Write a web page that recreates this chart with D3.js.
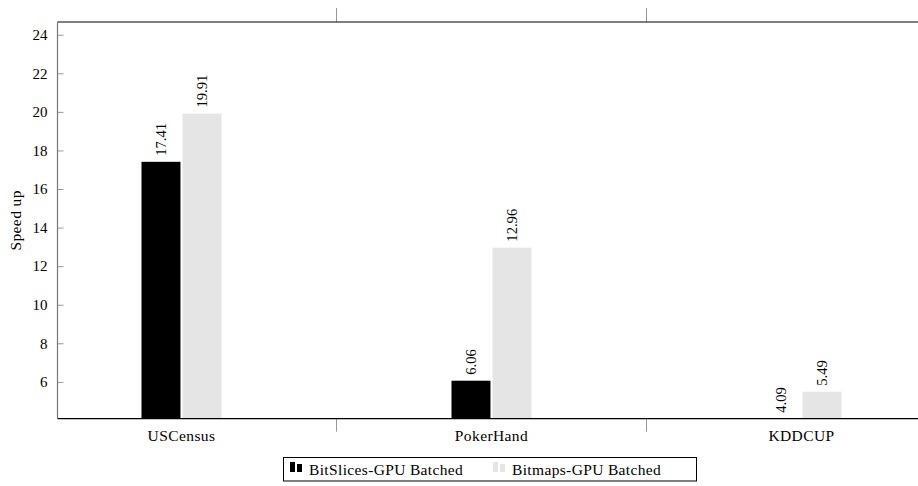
<!DOCTYPE html>
<html><head><meta charset="utf-8">
<script src="https://cdn.jsdelivr.net/npm/d3@7"></script>
<style>body{margin:0;background:#fff}svg{display:block}
svg text{font-family:"Liberation Serif","Times New Roman",serif;}
</style>
</head><body>
<svg id="c" width="918" height="486"></svg>
<script>
const categories = ["USCensus", "PokerHand", "KDDCUP"];
const seriesNames = ["BitSlices-GPU Batched", "Bitmaps-GPU Batched"];
const bitSlices = [17.41, 6.06, 4.09];
const bitmaps = [19.91, 12.96, 5.49];
const yTicks = [6, 8, 10, 12, 14, 16, 18, 20, 22, 24];
const seriesColors = ["#000000", "#e5e5e5"];

const svg = d3.select("#c");
const pLeft = 57.5, pRight = 918, pTop = 22, pBottom = 418.7;

const x0 = d3.scaleBand().domain(categories).range([26.5, 956.5]).paddingInner(0).paddingOuter(0);
const x1 = d3.scaleBand().domain(seriesNames).range([-40, 40]).paddingInner(0.05);
const y = d3.scaleLinear().domain([4.09, 24.66]).range([pBottom, pTop]);

const data = categories.map((c, i) => ({cat: c, vals: [bitSlices[i], bitmaps[i]]}));

// bars
const g = svg.append("g");
data.forEach(d => {
  const cx = x0(d.cat) + x0.bandwidth() / 2;
  d.vals.forEach((v, j) => {
    const s = seriesNames[j];
    g.append("rect")
      .attr("x", cx + x1(s))
      .attr("y", y(v))
      .attr("width", x1.bandwidth())
      .attr("height", Math.max(0, y.range()[0] - y(v)))
      .attr("fill", seriesColors[j]);
    g.append("text")
      .attr("transform", `translate(${cx + x1(s) + x1.bandwidth() / 2 + 4.8},${y(v) - 6}) rotate(-90)`)
      .attr("font-size", 14.6)
      .attr("fill", "#000")
      .text(v.toFixed(2));
  });
});

// y axis
const yAxis = d3.axisLeft(y).tickValues(yTicks).tickSize(-6).tickPadding(10);
const ya = svg.append("g").attr("transform", `translate(${pLeft},0)`).call(yAxis);
ya.attr("font-family", null);
ya.select(".domain").remove();
ya.selectAll(".tick line").attr("stroke", "#999");
ya.selectAll(".tick text").attr("font-size", 15).attr("fill", "#000");

// x axis (category labels)
const xa = svg.append("g").attr("transform", `translate(0,${pBottom})`)
  .call(d3.axisBottom(x0).tickSize(0).tickPadding(11));
xa.attr("font-family", null);
xa.select(".domain").remove();
xa.selectAll(".tick text").attr("font-size", 15.5).attr("letter-spacing", 0.4).attr("fill", "#000");

// separators between groups
const seps = categories.slice(1).map(c => x0(c));
seps.forEach(sx => {
  svg.append("line").attr("x1", sx).attr("x2", sx).attr("y1", pBottom).attr("y2", pBottom + 13).attr("stroke", "#999").attr("stroke-width", 1);
  svg.append("line").attr("x1", sx).attr("x2", sx).attr("y1", pTop).attr("y2", pTop - 14).attr("stroke", "#999").attr("stroke-width", 1);
});

// frame lines
svg.append("line").attr("x1", pLeft).attr("x2", pRight).attr("y1", pTop).attr("y2", pTop).attr("stroke", "#000").attr("stroke-width", 1.2);
svg.append("line").attr("x1", pLeft).attr("x2", pRight).attr("y1", pBottom).attr("y2", pBottom).attr("stroke", "#000").attr("stroke-width", 1.2);
svg.append("line").attr("x1", pLeft).attr("x2", pLeft).attr("y1", pTop).attr("y2", pBottom).attr("stroke", "#777").attr("stroke-width", 1.2);

// y label
svg.append("text")
  .attr("transform", `translate(21,${(pTop + pBottom) / 2}) rotate(-90)`)
  .attr("text-anchor", "middle")
  .attr("font-size", 15.5)
  .attr("letter-spacing", 0.4)
  .text("Speed up");

// legend
const lg = svg.append("g");
lg.append("rect").attr("x", 283.5).attr("y", 457.5).attr("width", 413).attr("height", 23.5)
  .attr("fill", "#fff").attr("stroke", "#000").attr("stroke-width", 1);
const legendX = [290, 493];
seriesNames.forEach((s, j) => {
  const lx = legendX[j];
  lg.append("rect").attr("x", lx).attr("y", 462).attr("width", 5).attr("height", 10).attr("fill", seriesColors[j]);
  lg.append("rect").attr("x", lx + 7).attr("y", 464).attr("width", 5).attr("height", 8).attr("fill", seriesColors[j]);
  lg.append("text").attr("x", lx + 19).attr("y", 474.5)
    .attr("font-size", 15.5).attr("letter-spacing", 0.35).text(s);
});
</script>
</body></html>
